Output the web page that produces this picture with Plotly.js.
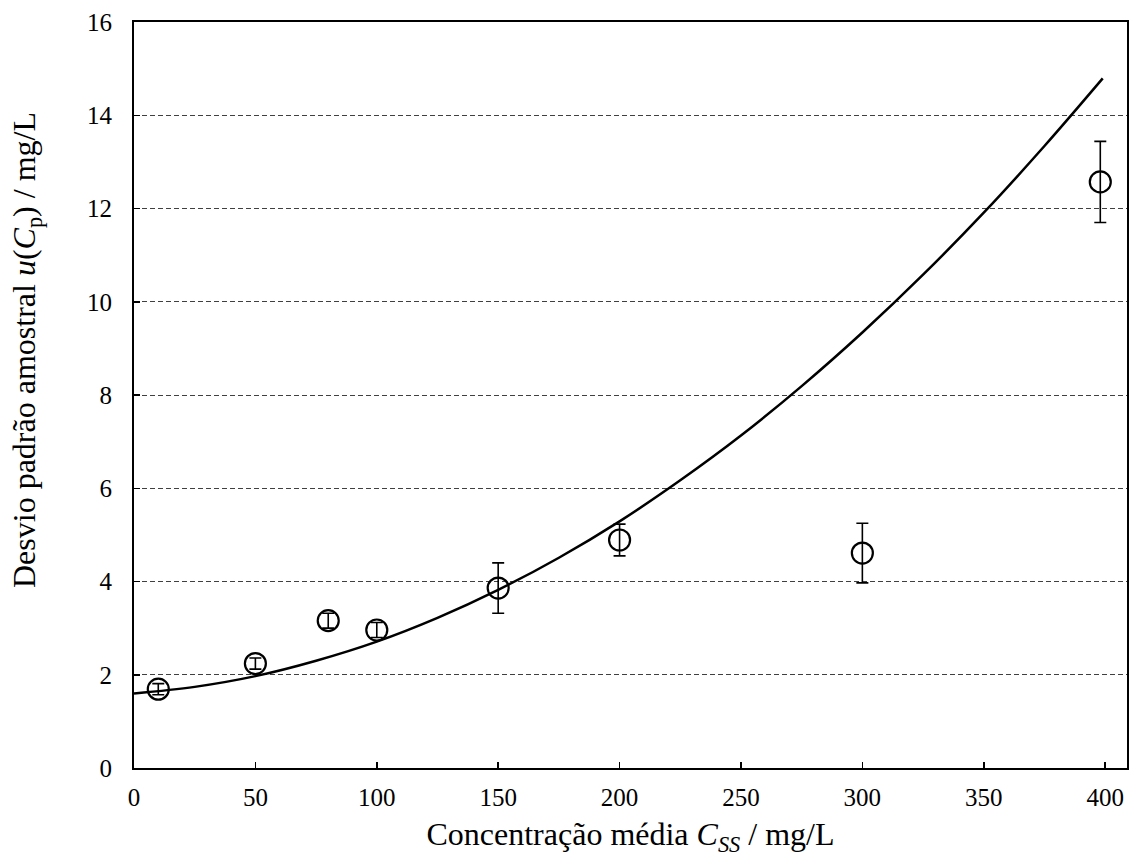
<!DOCTYPE html>
<html>
<head>
<meta charset="utf-8">
<script src="https://cdn.plot.ly/plotly-3.0.1.min.js"></script>
<style>html,body{margin:0;padding:0;background:#fff;}#chart{width:1129px;height:857px;}</style>
</head>
<body>
<div id="chart"></div>
<script>
// Measured points
const concX = [10, 50, 80, 100, 150, 200, 300, 398];
const desvioY = [1.69, 2.24, 3.16, 2.96, 3.86, 4.89, 4.61, 12.57];
const erroY = [0.12, 0.12, 0.16, 0.16, 0.54, 0.34, 0.64, 0.87];
// Fitted curve
const curvaX = [0, 25, 50, 75, 100, 125, 150, 175, 200, 225, 250, 275, 300, 325, 350, 375, 399];
const curvaY = [1.6, 1.74, 1.97, 2.30, 2.71, 3.22, 3.82, 4.51, 5.29, 6.17, 7.13, 8.19, 9.34, 10.58, 11.91, 13.34, 14.79];
const yTicks = [0, 2, 4, 6, 8, 10, 12, 14, 16];
const xTicks = [0, 50, 100, 150, 200, 250, 300, 350, 400];

const font = 'Liberation Serif, Times New Roman, serif';
const traces = [
  {x: curvaX, y: curvaY, mode: 'lines', type: 'scatter', line: {color: '#000', width: 2.5, shape: 'spline'}, hoverinfo: 'skip'},
  {x: concX, y: desvioY, mode: 'markers', type: 'scatter',
   marker: {symbol: 'circle-open', size: 21, color: '#000', line: {width: 2.2, color: '#000'}},
   error_y: {type: 'data', array: erroY, visible: true, color: '#000', thickness: 1.6, width: 6}}
];
const layout = {
  width: 1129, height: 857,
  margin: {l: 134, r: 2, t: 22, b: 89},
  showlegend: false,
  paper_bgcolor: '#fff', plot_bgcolor: '#fff',
  font: {family: font, color: '#000', size: 25},
  xaxis: {
    range: [0, 409], tickvals: xTicks, ticktext: xTicks.map(String),
    showgrid: false, zeroline: false, showline: true, mirror: true, linecolor: '#000', linewidth: 2,
    ticks: 'inside', ticklen: 6, tickwidth: 1.5, tickcolor: '#000',
    tickfont: {family: font, size: 25}, ticklabelstandoff: 6,
    title: {text: 'Concentração média <i>C</i><sub><i>SS</i></sub> / mg/L', font: {family: font, size: 32}, standoff: 15}
  },
  yaxis: {
    range: [0, 16], tickvals: yTicks, ticktext: yTicks.map(String),
    showgrid: true, gridcolor: '#404040', griddash: '5px,3px', gridwidth: 1,
    zeroline: false, showline: true, mirror: true, linecolor: '#000', linewidth: 2,
    ticks: 'inside', ticklen: 6, tickwidth: 1.5, tickcolor: '#000',
    tickfont: {family: font, size: 25}, ticklabelstandoff: 15
  },
  annotations: [{
    text: 'Desvio padrão amostral <i>u</i>(<i>C</i><sub>p</sub>) / mg/L',
    textangle: -90, showarrow: false,
    xref: 'paper', yref: 'paper', x: (27 - 134) / 993, y: (768 - 350) / 746,
    xanchor: 'center', yanchor: 'middle',
    font: {family: font, size: 32, color: '#000'}
  }]
};
Plotly.newPlot('chart', traces, layout, {displayModeBar: false, staticPlot: true});
</script>
</body>
</html>
